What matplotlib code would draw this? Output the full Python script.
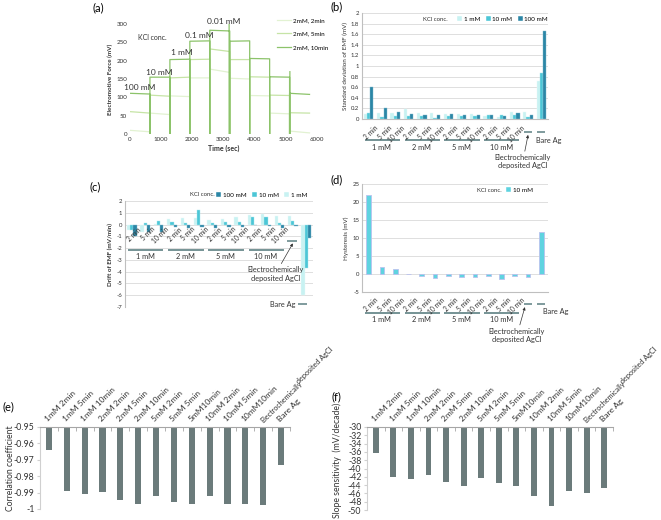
import numpy as np
import matplotlib
matplotlib.use("Agg")
import matplotlib.pyplot as plt
import matplotlib.transforms as mtransforms
from matplotlib.patches import Patch

plt.rcParams["font.family"] = ["Lato", "DejaVu Sans"]

# ---------------- data ----------------
# (a) EMF steps, 2mM electrodes (each segment: start / end level, mV)
seg_edges = [0, 640, 1280, 1920, 2560, 3200, 3840, 4480, 5120, 5760]
kcl_steps = ["100 mM", "10 mM", "1 mM", "0.1 mM", "0.01 mM"]
emf_2min_start = [10, 57, 104, 153, 177, 152, 105, 57, 8]
emf_2min_end = [6, 53, 102, 153, 168, 150, 104, 55, 3]
emf_5min_start = [61, 106, 153, 203, 232, 203, 156, 106, 58]
emf_5min_end = [57, 103, 155, 204, 225, 203, 155, 105, 57]
emf_10min_start = [111, 155, 203, 253, 283, 253, 206, 156, 111]
emf_10min_end = [109, 155, 204, 254, 281, 254, 205, 155, 108]
spike_times = [3180, 5130]
spike_vals = [300, 170]

# (b)-(d) electrode categories
time_labels = ["2 min", "5 min", "10 min"] * 4 + ["", ""]
groups = ["1 mM", "2 mM", "5 mM", "10 mM"]

sd_1mM = [0.10, 0.12, 0.12, 0.19, 0.12, 0.11, 0.10, 0.09, 0.10, 0.05, 0.04, 0.13, 0.14, 0.71]
sd_10mM = [0.11, 0.04, 0.05, 0.06, 0.05, 0.02, 0.05, 0.06, 0.05, 0.07, 0.08, 0.07, 0.04, 0.87]
sd_100mM = [0.60, 0.20, 0.13, 0.10, 0.08, 0.08, 0.09, 0.08, 0.07, 0.07, 0.05, 0.11, 0.08, 1.66]

drift_1mM = [-0.5, -0.65, 0.02, 0.45, 0.55, 0.55, 0.4, 0.45, 0.65, 0.8, 0.9, 0.75, 0.75, -6.0]
drift_10mM = [-0.5, 0.15, 0.3, 0.2, 0.1, 1.25, 0.1, 0.2, 0.2, 0.65, 0.65, 0.15, 0.3, -3.7]
drift_100mM = [-1.0, -0.65, -0.6, -0.2, -0.25, -0.2, -0.25, -0.2, -0.2, -0.05, -0.15, -0.25, -0.15, -1.1]

hysteresis_10mM = [21.9, 2.0, 1.3, 0.0, -0.5, -1.0, -0.6, -0.8, -0.8, -0.6, -1.3, -0.6, -0.8, 11.8]

# (e), (f)
fit_labels = ["1mM 2min", "1mM 5min", "1mM 10min", "2mM 2min", "2mM 5min", "2mM 10min",
              "5mM 2min", "5mM 5min", "5mM10min", "10mM 2min", "10mM 5min", "10mM10min",
              "", "Bare Ag"]
corr_coef = [-0.9643, -0.9893, -0.9910, -0.9895, -0.9948, -0.9968, -0.9922,
             -0.9958, -0.9972, -0.9920, -0.9972, -0.9967, -0.9975, -0.9730]
slope = [-36.3, -42.0, -42.5, -41.6, -43.2, -44.1, -42.3,
         -43.5, -44.3, -46.6, -49.1, -45.4, -45.9, -44.8]

# ---------------- style ----------------
PALE, CYAN, DARK = "#c8f2f2", "#4cc6d6", "#2b86a6"
GRP_C = "#6a8a8c"
GRID_C = "#d9d9d9"
TXT = "#333333"
BAR_GREY = "#6b7b7b"

W, H = 661, 520
fig = plt.figure(figsize=(W / 100, H / 100), dpi=100)


def px_axes(left, top, right, bottom):
    return fig.add_axes([left / W, 1 - bottom / H, (right - left) / W, (bottom - top) / H])


def kcl_legend(ax, entries, text_x, y, right_x):
    handles = [Patch(facecolor=c, edgecolor="white", lw=0.3) for _, c in entries]
    ax.text(text_x, y, "KCl conc.", transform=ax.transAxes, fontsize=4.3,
            va="center", ha="left", color=TXT)
    ax.legend(handles, [n for n, _ in entries], loc="center right", bbox_to_anchor=(right_x, y),
              ncol=len(entries), frameon=False, fontsize=4.5, handlelength=0.8,
              handleheight=0.8, handletextpad=0.3, columnspacing=0.8, borderpad=0,
              borderaxespad=0)


def category_labels(ax, tr, ytick, yline, ygroup, fs=4.8):
    for i, lab in enumerate(time_labels):
        if lab:
            ax.text(i + 0.45, ytick, lab, transform=tr, rotation=45, ha="right", va="top",
                    rotation_mode="anchor", fontsize=fs, color=TXT, clip_on=False)
    for g, name in enumerate(groups):
        i0 = 3 * g
        ax.plot([i0 - 0.3, i0 + 2.35], [yline, yline], transform=tr, color=GRP_C, lw=1.3,
                clip_on=False, solid_capstyle="butt")
        ax.text(i0 + 1, ygroup, name, transform=tr, ha="center", va="top", fontsize=5.3,
                color=TXT, clip_on=False)


def dash(ax, tr, x0, x1, y):
    ax.plot([x0, x1], [y, y], transform=tr, color=GRP_C, lw=1.2, clip_on=False,
            solid_capstyle="butt")


def electro_note(ax, tr, text_xy, tip_xy):
    ax.annotate("Electrochemically\ndeposited AgCl", xy=tip_xy, xycoords=tr, xytext=text_xy,
                textcoords=tr, ha="center", va="top", fontsize=5.3, color=TXT,
                annotation_clip=False,
                arrowprops=dict(arrowstyle="-|>", color=TXT, lw=0.5, shrinkA=0, shrinkB=0,
                                mutation_scale=4))


def bar_axes_style(ax):
    for s in ("top", "right"):
        ax.spines[s].set_visible(False)
    ax.spines["left"].set_color("#bfbfbf")
    ax.spines["bottom"].set_color("#bfbfbf")
    ax.yaxis.grid(True, color=GRID_C, lw=0.6)
    ax.set_axisbelow(True)
    ax.set_xticks([])
    ax.tick_params(axis="y", length=0, labelsize=4.3, pad=2, labelcolor=TXT)
    ax.set_xlim(-0.5, 13.5)


def fmt_ticks(ax, vals):
    ax.set_yticks(vals)
    ax.set_yticklabels([f"{v:g}" for v in vals])


x = np.arange(len(time_labels))
bw = 0.24

# ---------------- (a) ----------------
ax = px_axes(130, 24, 317, 134)
series = [("2mM, 2min", emf_2min_start, emf_2min_end, "#e2f2d2"),
          ("2mM, 5min", emf_5min_start, emf_5min_end, "#c6e4a6"),
          ("2mM, 10min", emf_10min_start, emf_10min_end, "#8cc36a")]
for name, st, en, col in series:
    xs, ys = [], []
    n = len(st)
    for k in range(n):
        t0, t1 = seg_edges[k], seg_edges[k + 1]
        if k > 0:
            xs += [t0]
            ys += [0]
        xs += [t0, t1]
        ys += [st[k], en[k]]
        if k < n - 1:
            xs += [t1]
            ys += [0]
        xs += [np.nan]
        ys += [np.nan]
    if name == "2mM, 10min":
        for t, v in zip(spike_times, spike_vals):
            xs += [t, t, np.nan]
            ys += [0, v, np.nan]
    ax.plot(xs, ys, color=col, lw=0.9, label=name)
ax.set_xlim(0, 6000)
ax.set_ylim(0, 300)
ax.set_xticks(range(0, 6001, 1000))
ax.set_yticks(range(0, 301, 50))
ax.tick_params(length=0, labelsize=4.5, labelcolor=TXT, pad=2)
for s in ax.spines.values():
    s.set_visible(False)
ax.set_xlabel("Time (sec)", fontsize=5, fontweight="bold", labelpad=2, color=TXT)
ax.set_ylabel("Electromotive Force (mV)", fontsize=4.5, fontweight="bold", labelpad=2, color=TXT)
step_pos = [(320, 128), (930, 169), (1670, 221), (2220, 270), (3020, 308)]
for lab, (tx, ty) in zip(kcl_steps, step_pos):
    ax.text(tx, ty, lab, fontsize=6, ha="center", va="center", color=TXT, clip_on=False)
ax.text(257, 262, "KCl conc.", fontsize=5, ha="left", va="center", color=TXT)
ax.legend(loc="upper left", bbox_to_anchor=(0.786, 1.06), frameon=False, fontsize=4.5,
          handlelength=2.2, labelspacing=1.3, handletextpad=0.4, borderpad=0, borderaxespad=0)
fig.text(98 / W, 1 - 8 / H, "(a)", fontsize=8, ha="center", va="center")

# ---------------- (b) ----------------
ax = px_axes(362, 13, 548, 119)
bar_axes_style(ax)
kw = dict(width=bw, lw=0.3)
ax.bar(x - bw, sd_1mM, color=PALE, edgecolor="#e8fafa", **kw)
ax.bar(x, sd_10mM, color=CYAN, edgecolor="#a8e6ee", **kw)
ax.bar(x + bw, sd_100mM, color=DARK, edgecolor="#7fb8cc", **kw)
ax.set_ylim(0, 2)
fmt_ticks(ax, np.round(np.arange(0, 2.01, 0.2), 1))
ax.set_ylabel("Standard deviation of EMF (mV)", fontsize=4.5, labelpad=2, color=TXT)
kcl_legend(ax, [("1 mM", PALE), ("10 mM", CYAN), ("100 mM", DARK)], 0.328, 0.943, 1.0)
tr = mtransforms.blended_transform_factory(ax.transData, ax.transAxes)
category_labels(ax, tr, -0.05, -0.198, -0.236)
dash(ax, tr, 11.7, 12.3, -0.123)
dash(ax, tr, 12.7, 13.3, -0.123)
ax.text(12.6, -0.2, "Bare Ag", transform=tr, ha="left", va="center", fontsize=5.3, color=TXT)
electro_note(ax, tr, (11.6, -0.33), (12.0, -0.15))
fig.text(337 / W, 1 - 7 / H, "(b)", fontsize=8, ha="center", va="center")

# ---------------- (c) ----------------
ax = px_axes(125, 201, 313, 307)
bar_axes_style(ax)
ax.spines["bottom"].set_visible(False)
ax.bar(x - bw, drift_1mM, color=PALE, edgecolor="#e8fafa", **kw)
ax.bar(x, drift_10mM, color=CYAN, edgecolor="#a8e6ee", **kw)
ax.bar(x + bw, drift_100mM, color=DARK, edgecolor="#7fb8cc", **kw)
ax.set_ylim(-7, 2)
fmt_ticks(ax, range(-7, 3))
ax.set_ylabel("Drift of EMF (mV/min)", fontsize=4.5, fontweight="bold", labelpad=2, color=TXT)
kcl_legend(ax, [("100 mM", DARK), ("10 mM", CYAN), ("1 mM", PALE)], 0.346, 1.057, 0.968)
tr = ax.transData
category_labels(ax, tr, -0.1, -2.2, -2.41)
dash(ax, tr, 11.6, 12.3, -1.4)
dash(ax, tr, 12.4, 13.05, -6.75)
ax.text(12.2, -6.75, "Bare Ag", ha="right", va="center", fontsize=5.3, color=TXT)
electro_note(ax, tr, (10.7, -3.55), (12.0, -1.6))
fig.text(95 / W, 1 - 187 / H, "(c)", fontsize=8, ha="center", va="center")

# ---------------- (d) ----------------
ax = px_axes(362, 184, 548, 292)
bar_axes_style(ax)
ax.bar(x, hysteresis_10mM, width=0.35, color="#5fd3e0", edgecolor="#b9c2ee", lw=0.6)
ax.set_ylim(-5, 25)
fmt_ticks(ax, range(-5, 26, 5))
ax.set_ylabel("Hysteresis (mV)", fontsize=4.5, labelpad=2, color=TXT)
kcl_legend(ax, [("10 mM", "#5fd3e0")], 0.618, 0.944, 0.92)
tr = mtransforms.blended_transform_factory(ax.transData, ax.transAxes)
category_labels(ax, tr, -0.04, -0.194, -0.222)
dash(ax, tr, 11.7, 12.3, -0.111)
dash(ax, tr, 12.7, 13.3, -0.111)
ax.text(13.1, -0.185, "Bare Ag", transform=tr, ha="left", va="center", fontsize=5.3, color=TXT)
electro_note(ax, tr, (11.16, -0.33), (11.76, -0.14))
fig.text(337 / W, 1 - 180 / H, "(d)", fontsize=8, ha="center", va="center")


# ---------------- (e), (f) ----------------
def fit_axes(ax, values, top, bottom, ticks, ylabel, label_y):
    ax.bar(x, np.array(values) - top, bottom=top, width=0.34, color=BAR_GREY)
    ax.set_ylim(bottom, top)
    ax.set_xlim(-0.5, 13.5)
    fmt_ticks(ax, ticks)
    for s in ("bottom", "right"):
        ax.spines[s].set_visible(False)
    ax.spines["top"].set_color("#a6a6a6")
    ax.spines["left"].set_color("#d0d0d0")
    ax.xaxis.tick_top()
    ax.set_xticks(x)
    ax.set_xticklabels(fit_labels, rotation=45, ha="left", rotation_mode="anchor",
                       fontsize=6, color=TXT)
    ax.set_xticks(np.arange(-0.5, 14, 1), minor=True)
    ax.tick_params(axis="x", which="major", length=0, pad=3)
    ax.tick_params(axis="x", which="minor", direction="in", length=3, color="#a6a6a6")
    ax.tick_params(axis="y", length=2, color="#d0d0d0", labelsize=6.3, pad=2, labelcolor=TXT)
    ax.set_ylabel(ylabel, fontsize=6.2, color=TXT)
    ax.yaxis.set_label_coords(-0.1, label_y)
    # two-line wrapped category label, as in the original
    for line, off in (("Electrochemically", (-1, 4)), ("deposited AgCl", (25, 32))):
        ax.annotate(line, xy=(12, 1.0), xycoords=("data", "axes fraction"),
                    xytext=off, textcoords="offset points",
                    rotation=45, ha="left", va="center", rotation_mode="anchor",
                    fontsize=5.2, color=TXT, annotation_clip=False)


ax = px_axes(40, 427, 290, 509)
fit_axes(ax, corr_coef, -0.95, -1.0, np.round(np.arange(-1.0, -0.949, 0.01), 2),
         "Correlation coefficient", 0.5)
fig.text(8 / W, 1 - 407 / H, "(e)", fontsize=8, ha="center", va="center")

ax = px_axes(367, 427, 613, 510)
fit_axes(ax, slope, -30, -50, range(-50, -29, 2), "Slope sensitivity  (mV/decade)", 0.6)
fig.text(336 / W, 1 - 397 / H, "(f)", fontsize=8, ha="center", va="center")

fig.savefig("out.png", dpi=100)
